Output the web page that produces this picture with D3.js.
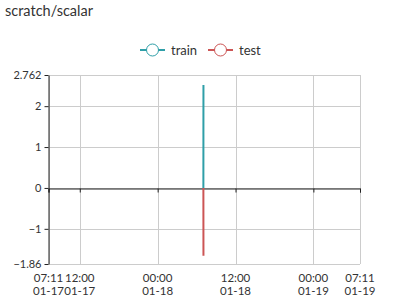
<!DOCTYPE html>
<html>
<head>
<meta charset="utf-8">
<script src="https://cdn.jsdelivr.net/npm/d3@7"></script>
<style>
  body { margin: 0; background: #fff; }
  svg { display: block; font-family: Lato, "Open Sans", sans-serif; }
</style>
</head>
<body>
<svg id="chart" width="400" height="300"></svg>
<script>
const title = "scratch/scalar";
const seriesNames = ["train", "test"];
const seriesColors = ["#2f9fa8", "#cc5555"];

// timestamps of the logged points (all at almost the same moment)
const trainTimes = ["2018-01-18T07:03:00", "2018-01-18T07:03:20", "2018-01-18T07:03:40"];
const trainValues = [0, 1.3, 2.52];
const testTimes = ["2018-01-18T07:03:00", "2018-01-18T07:03:20", "2018-01-18T07:03:40"];
const testValues = [0, -0.9, -1.66];

const xStart = "2018-01-17T07:11:00";
const xEnd = "2018-01-19T07:11:00";
const xTicks = ["2018-01-17T07:11:00", "2018-01-17T12:00:00", "2018-01-18T00:00:00",
  "2018-01-18T12:00:00", "2018-01-19T00:00:00", "2018-01-19T07:11:00"];
const yMin = -1.86;
const yMax = 2.762;
const yTicks = [-1.86, -1, 0, 1, 2, 2.762];

const svg = d3.select("#chart");
const margin = { top: 75, right: 40, bottom: 36, left: 48.5 };
const width = +svg.attr("width");
const height = +svg.attr("height");

const parse = d3.isoParse;
const x = d3.scaleTime()
  .domain([parse(xStart), parse(xEnd)])
  .range([margin.left, width - margin.right]);
const y = d3.scaleLinear()
  .domain([yMin, yMax])
  .range([height - margin.bottom, margin.top]);

svg.append("text")
  .attr("x", 5).attr("y", 16)
  .attr("fill", "#333")
  .style("font-size", "14.5px")
  .text(title);

// legend
const legend = svg.append("g");
const legendX = [140, 208];
seriesNames.forEach((name, i) => {
  const g = legend.append("g").attr("transform", `translate(${legendX[i]},50)`);
  g.append("line").attr("x1", 0).attr("x2", 25).attr("stroke", seriesColors[i]).attr("stroke-width", 2);
  g.append("circle").attr("cx", 12.5).attr("r", 6).attr("fill", "#fff")
    .attr("stroke", seriesColors[i]).attr("stroke-width", 1);
  g.append("text").attr("x", 31).attr("dy", "0.35em")
    .attr("fill", "#333").style("font-size", "13px").text(name);
});

// grid
const grid = svg.append("g").attr("stroke", "#ccc").attr("stroke-width", 1);
xTicks.forEach(t => {
  const xp = Math.round(x(parse(t))) + 0.5;
  grid.append("line").attr("x1", xp).attr("x2", xp)
    .attr("y1", margin.top).attr("y2", height - margin.bottom);
});
yTicks.forEach(v => {
  const yp = Math.round(y(v)) + 0.5;
  grid.append("line").attr("x1", margin.left).attr("x2", width - margin.right)
    .attr("y1", yp).attr("y2", yp);
});

// x axis at zero
const fmt1 = d3.timeFormat("%H:%M");
const fmt2 = d3.timeFormat("%m-%d");
const xAxis = svg.append("g")
  .attr("transform", `translate(0,${Math.round(y(0)) + 0.5})`)
  .call(d3.axisBottom(x).tickValues(xTicks.map(parse)).tickSize(4).tickFormat(""));
xAxis.select(".domain").attr("stroke", "#222");
xAxis.selectAll(".tick line").attr("stroke", "#222");

// x tick labels along bottom
const xLabels = svg.append("g").style("font-size", "11.5px").attr("fill", "#333").attr("text-anchor", "middle");
xTicks.forEach(t => {
  const d = parse(t);
  const txt = xLabels.append("text").attr("x", x(d)).attr("y", height - margin.bottom + 18);
  txt.append("tspan").attr("x", x(d)).text(fmt1(d));
  txt.append("tspan").attr("x", x(d)).attr("dy", "1.1em").text(fmt2(d));
});

// y axis
const yAxis = svg.append("g")
  .attr("transform", `translate(${margin.left},0)`)
  .call(d3.axisLeft(y).tickValues(yTicks).tickSize(4).tickSizeOuter(0)
    .tickFormat(d => d3.format("")(d).replace("-", "\u2212")));
yAxis.select(".domain").attr("stroke", "#222");
yAxis.selectAll(".tick line").attr("stroke", "#222");
yAxis.selectAll(".tick text").attr("fill", "#333").style("font-size", "11px")
  .style("font-family", "Lato, 'Open Sans', sans-serif");

// series
const line = d3.line().x(d => x(d.t)).y(d => y(d.v));
const series = [
  trainTimes.map((t, i) => ({ t: parse(t), v: trainValues[i] })),
  testTimes.map((t, i) => ({ t: parse(t), v: testValues[i] }))
];
series.forEach((pts, i) => {
  svg.append("path")
    .datum(pts)
    .attr("fill", "none")
    .attr("stroke", seriesColors[i])
    .attr("stroke-width", 2)
    .attr("d", line);
});
</script>
</body>
</html>
